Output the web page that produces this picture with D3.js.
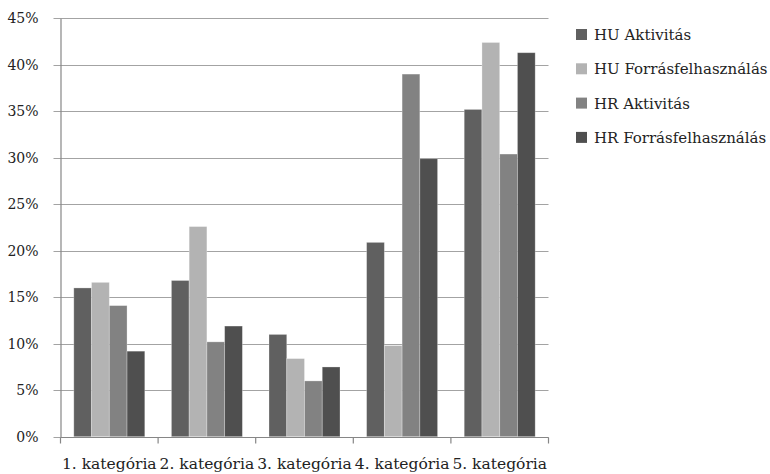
<!DOCTYPE html>
<html>
<head>
<meta charset="utf-8">
<script src="https://cdn.jsdelivr.net/npm/d3@7"></script>
<style>
  html, body { margin: 0; padding: 0; background: #fff; }
  svg { display: block; }
  svg text { font-family: "DejaVu Serif", serif; fill: #222; }
</style>
</head>
<body>
<svg id="chart" width="770" height="474"></svg>
<script>
// Category labels along the x axis
const categories = ["1. kategória", "2. kategória", "3. kategória", "4. kategória", "5. kategória"];
// Series names shown in the legend
const seriesNames = ["HU Aktivitás", "HU Forrásfelhasználás", "HR Aktivitás", "HR Forrásfelhasználás"];
// Values in percent, one array per series
const huAktivitas = [16.0, 16.8, 11.0, 20.9, 35.2];
const huForras = [16.6, 22.6, 8.4, 9.8, 42.4];
const hrAktivitas = [14.1, 10.2, 6.0, 39.0, 30.4];
const hrForras = [9.2, 11.9, 7.5, 29.9, 41.3];
// Y axis tick values (percent)
const yTicks = [0, 5, 10, 15, 20, 25, 30, 35, 40, 45];
const seriesColors = ["#606060", "#b3b3b3", "#828282", "#4f4f4f"];

const seriesValues = [huAktivitas, huForras, hrAktivitas, hrForras];
const series = seriesNames.map((name, i) => ({ name, values: seriesValues[i], color: seriesColors[i] }));

const svg = d3.select("#chart");
const plot = { left: 60.5, right: 548.5, top: 18.3, bottom: 436.7 };

const x = d3.scaleBand().domain(categories).range([plot.left, plot.right]).paddingInner(0).paddingOuter(0);
// clustered bars: 4 bars + 150% gap per category
const bw = x.bandwidth() / (series.length + 1.5);
const x1 = d3.scaleBand().domain(d3.range(series.length))
  .range([0.75 * bw, 0.75 * bw + series.length * bw]).padding(0);
const y = d3.scaleLinear().domain([0, 45]).range([plot.bottom, plot.top]);

// horizontal gridlines
svg.append("g")
  .selectAll("line")
  .data(yTicks)
  .join("line")
  .attr("x1", plot.left - 7)
  .attr("x2", plot.right)
  .attr("y1", d => Math.round(y(d)) + 0.5)
  .attr("y2", d => Math.round(y(d)) + 0.5)
  .attr("stroke", "#a3a3a3")
  .attr("stroke-width", 1);

// bars
const groups = svg.append("g")
  .selectAll("g")
  .data(series)
  .join("g")
  .attr("fill", d => d.color);

groups.selectAll("rect")
  .data((s, si) => s.values.map((v, ci) => ({ v, ci, si })))
  .join("rect")
  .attr("x", d => x(categories[d.ci]) + x1(d.si))
  .attr("width", x1.bandwidth())
  .attr("y", d => y(d.v))
  .attr("height", d => y(0) - y(d.v))
  .attr("stroke", "rgba(255,255,255,0.35)")
  .attr("stroke-width", 0.8);

// y axis
const yAxis = d3.axisLeft(y).tickValues(yTicks).tickSize(0).tickPadding(22)
  .tickFormat(d => d + "%");
const gy = svg.append("g").attr("transform", `translate(${plot.left},0)`).call(yAxis);
gy.attr("font-family", null).attr("font-size", null);
gy.select(".domain").attr("stroke", "#868686").attr("stroke-width", 1.2);
gy.selectAll("text")
  .style("font-size", "14px")
  .attr("fill", "#222");

// x axis with boundary ticks
const gx = svg.append("g").attr("transform", `translate(0,${Math.round(plot.bottom) + 0.5})`);
gx.append("line")
  .attr("x1", plot.left).attr("x2", plot.right)
  .attr("stroke", "#868686").attr("stroke-width", 1.2);
const bounds = categories.map(c => x(c)).concat([plot.right]);
gx.selectAll("line.tick")
  .data(bounds)
  .join("line")
  .attr("class", "tick")
  .attr("x1", d => d).attr("x2", d => d)
  .attr("y1", 0).attr("y2", 6)
  .attr("stroke", "#868686").attr("stroke-width", 1.2);
gx.selectAll("text")
  .data(categories)
  .join("text")
  .attr("x", d => x(d) + x.bandwidth() / 2)
  .attr("y", 31)
  .attr("text-anchor", "middle")
  .style("font-size", "15.5px")
  .text(d => d);

// legend
const legend = svg.append("g").attr("transform", "translate(576,29)");
const li = legend.selectAll("g")
  .data(series)
  .join("g")
  .attr("transform", (d, i) => `translate(0,${i * 34.3})`);
li.append("rect").attr("width", 11).attr("height", 11).attr("fill", d => d.color);
li.append("text")
  .attr("x", 18).attr("y", 11)
  .style("font-size", "15px")
  .text(d => d.name);
</script>
</body>
</html>
